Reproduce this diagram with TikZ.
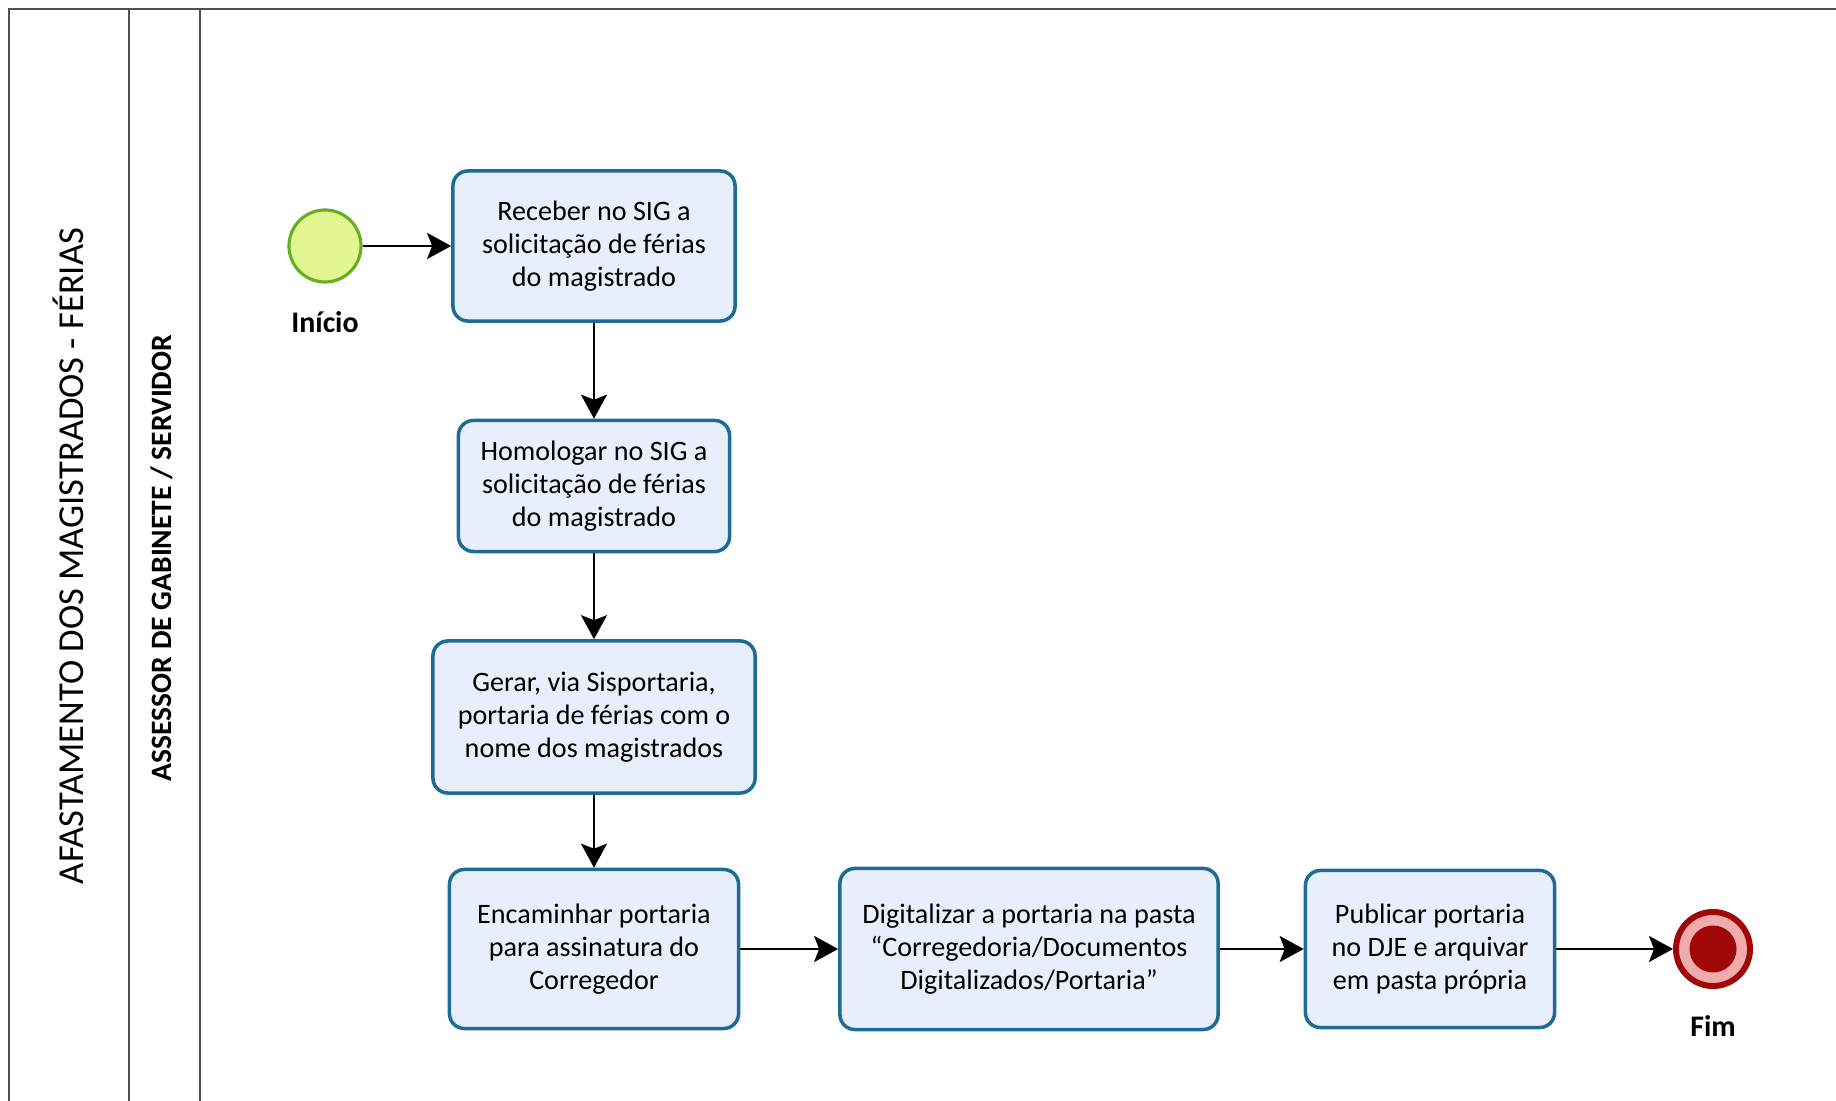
\documentclass[tikz,border=0pt]{standalone}
\usepackage{fontspec}
\setmainfont{Carlito}
\usetikzlibrary{arrows.meta,positioning}
\definecolor{taskfill}{RGB}{233,238,252}
\definecolor{taskline}{RGB}{28,108,150}
\definecolor{startfill}{RGB}{226,247,145}
\definecolor{startline}{RGB}{104,174,36}
\definecolor{endline}{RGB}{160,8,8}
\definecolor{endring}{RGB}{240,172,172}
\definecolor{poolline}{RGB}{80,80,80}
\tikzset{
  task/.style={draw=taskline, fill=taskfill, line width=1pt, rounded corners=0.15cm,
    align=center, inner sep=0pt, font=\fontsize{8}{9.4}\selectfont},
  startev/.style={circle, draw=startline, fill=startfill, line width=0.9pt, minimum size=0.72cm},
  endev/.style={circle, draw=endline, fill=endring, line width=1.7pt, minimum size=0.74cm},
  evlabel/.style={font=\fontsize{8.5}{10}\selectfont\bfseries},
  flow/.style={line width=0.65pt, -{Stealth[length=0.24cm, width=0.26cm, inset=0.05cm]}},
  lane/.style={draw=poolline, line width=0.75pt}
}
\begin{document}
\begin{tikzpicture}[x=0.01cm, y=-0.01cm]
  \useasboundingbox (0,0) rectangle (1836,1101);
  % pool and lane
  \draw[lane] (9,1101) -- (9,9) -- (1836,9);
  \draw[lane] (129,9) -- (129,1101);
  \draw[lane] (200,9) -- (200,1101);
  \node[rotate=90, font=\fontsize{10.4}{12}\selectfont] (pool) at (68,556) {AFASTAMENTO DOS MAGISTRADOS - FÉRIAS};
  \node[rotate=90, font=\fontsize{8.4}{10}\selectfont\bfseries] (lane) at (162,558) {ASSESSOR DE GABINETE / SERVIDOR};
  % events
  \node[startev] (inicio) at (325,246) {};
  \node[evlabel] (lblinicio) at (325,322) {Início};
  \node[endev] (fim) at (1713,949) {};
  \fill[endline] (fim.center) circle (0.235cm);
  \node[evlabel] (lblfim) at (1713,1026) {Fim};
  % tasks
  \foreach \n/\x/\y/\w/\h/\t in {
      1/594/246/2.82/1.50/{Receber no SIG a\\solicitação de férias\\do magistrado},
      2/594/486/2.71/1.31/{Homologar no SIG a\\solicitação de férias\\do magistrado},
      3/594/717/3.22/1.52/{Gerar, via Sisportaria,\\portaria de férias com o\\nome dos magistrados},
      4/594/949/2.89/1.59/{Encaminhar portaria\\para assinatura do\\Corregedor},
      5/1029/949/3.78/1.61/{Digitalizar a portaria na pasta\\“Corregedoria/Documentos\\Digitalizados/Portaria”},
      6/1430/949/2.49/1.57/{Publicar portaria\\no DJE e arquivar\\em pasta própria}} {
    \node[task, minimum width=\w cm, minimum height=\h cm] (t\n) at (\x,\y) {\t};
  }
  % sequence flows
  \foreach \a/\b in {inicio/t1, t1/t2, t2/t3, t3/t4, t4/t5, t5/t6, t6/fim}
    \draw[flow] (\a) -- (\b);
\end{tikzpicture}
\end{document}
